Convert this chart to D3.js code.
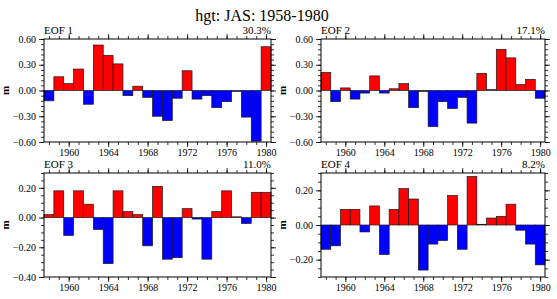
<!DOCTYPE html>
<html>
<head>
<meta charset="utf-8">
<script src="https://cdn.jsdelivr.net/npm/d3@7"></script>
<style>
  body { margin: 0; background: #fff; }
  svg text { font-family: "Liberation Serif", "DejaVu Serif", serif; }
</style>
</head>
<body>
<svg id="chart" width="557" height="299"></svg>
<script>
// years on the x axis
const years = [1958, 1959, 1960, 1961, 1962, 1963, 1964, 1965, 1966, 1967, 1968, 1969,
               1970, 1971, 1972, 1973, 1974, 1975, 1976, 1977, 1978, 1979, 1980];

// principal component time series, one per EOF
const eof1 = [-0.12, 0.16, 0.08, 0.25, -0.16, 0.53, 0.41, 0.31, -0.06, 0.05, -0.08, -0.30,
              -0.35, -0.09, 0.23, -0.10, -0.06, -0.20, -0.13, -0.01, -0.31, -0.59, 0.51];
const eof2 = [0.21, -0.13, 0.03, -0.10, -0.03, 0.17, -0.03, 0.02, 0.08, -0.20, -0.01, -0.42,
              -0.13, -0.21, -0.08, -0.38, 0.20, 0.01, 0.48, 0.38, 0.07, 0.13, -0.09];
const eof3 = [0.02, 0.18, -0.12, 0.18, 0.09, -0.08, -0.31, 0.18, 0.04, 0.02, -0.19, 0.21,
              -0.28, -0.27, 0.06, -0.01, -0.28, 0.04, 0.18, 0.005, -0.04, 0.17, 0.17];
const eof4 = [-0.14, -0.12, 0.09, 0.09, -0.04, 0.11, -0.17, 0.09, 0.21, 0.15, -0.26, -0.11,
              -0.09, 0.17, -0.14, 0.28, 0.004, 0.04, 0.05, 0.12, -0.03, -0.11, -0.23];

const panelNames = ["EOF 1", "EOF 2", "EOF 3", "EOF 4"];
const pctLabels = ["30.3%", "17.1%", "11.0%", "8.2%"];
const yearTicks = [1960, 1964, 1968, 1972, 1976, 1980];
const yTicks1 = [-0.6, -0.3, 0, 0.3, 0.6];
const yTicks3 = [-0.4, -0.2, 0, 0.2];
const yTicks4 = [-0.2, 0, 0.2];
const titleText = "hgt: JAS: 1958-1980";
const yLabel = "m";

const svg = d3.select("#chart");

svg.append("text")
    .attr("x", 262).attr("y", 21)
    .attr("text-anchor", "middle")
    .style("font-size", "16px")
    .text(titleText);

// layout of the four panels (frame box in pixels and y range)
const panels = [
  { data: eof1, x0: 44,  x1: 271, y0: 39,  y1: 142, dom: [-0.6, 0.6], ticks: yTicks1, minor: 0.06 },
  { data: eof2, x0: 321, x1: 545, y0: 39,  y1: 142, dom: [-0.6, 0.6], ticks: yTicks1, minor: 0.06 },
  { data: eof3, x0: 44,  x1: 271, y0: 173, y1: 277, dom: [-0.4, 0.3], ticks: yTicks3, minor: 0.05 },
  { data: eof4, x0: 321, x1: 545, y0: 173, y1: 277, dom: [-0.3, 0.3], ticks: yTicks4, minor: 0.05 }
];

panels.forEach(function(p, i) {
    let g = svg.append("g");
    let x = d3.scaleLinear().domain([years[0] - 0.5, years[years.length - 1] + 0.5]).range([p.x0, p.x1]);
    let y = d3.scaleLinear().domain(p.dom).range([p.y1, p.y0]);

    // bars
    g.selectAll("rect.bar")
        .data(p.data)
        .enter().append("rect")
        .attr("class", "bar")
        .attr("x", (d, j) => x(years[j] - 0.5))
        .attr("width", (d, j) => x(years[j] + 0.5) - x(years[j] - 0.5))
        .attr("y", d => y(Math.max(d, 0)))
        .attr("height", d => Math.abs(y(d) - y(0)))
        .attr("fill", d => d >= 0 ? "#ff0000" : "#0000ff")
        .attr("stroke", "#1a1a1a")
        .attr("stroke-width", 0.7);

    // minor tick values on y
    let minorY = d3.range(Math.ceil(p.dom[0] / p.minor - 1e-6), Math.floor(p.dom[1] / p.minor + 1e-6) + 1)
        .map(k => +(k * p.minor).toFixed(4));

    function styleAxis(sel) {
        sel.select(".domain").remove();
        sel.selectAll("line").attr("stroke", "#000").attr("stroke-width", 0.8);
        sel.selectAll("text").style("font-size", "10px").attr("fill", "#000");
    }

    // y axes, left with labels, right without
    g.append("g").attr("transform", "translate(" + p.x0 + ",0)")
        .call(d3.axisLeft(y).tickValues(minorY).tickSize(3).tickFormat(""))
        .call(styleAxis);
    g.append("g").attr("transform", "translate(" + p.x0 + ",0)")
        .call(d3.axisLeft(y).tickValues(p.ticks).tickSize(5).tickPadding(3).tickFormat(d3.format(".2f")))
        .call(styleAxis);
    g.append("g").attr("transform", "translate(" + p.x1 + ",0)")
        .call(d3.axisRight(y).tickValues(minorY).tickSize(3).tickFormat(""))
        .call(styleAxis);
    g.append("g").attr("transform", "translate(" + p.x1 + ",0)")
        .call(d3.axisRight(y).tickValues(p.ticks).tickSize(5).tickFormat(""))
        .call(styleAxis);

    // x axes, bottom with labels, top without
    g.append("g").attr("transform", "translate(0," + p.y1 + ")")
        .call(d3.axisBottom(x).tickValues(years).tickSize(3).tickFormat(""))
        .call(styleAxis);
    g.append("g").attr("transform", "translate(0," + p.y1 + ")")
        .call(d3.axisBottom(x).tickValues(yearTicks).tickSize(5).tickPadding(2).tickFormat(d3.format("d")))
        .call(styleAxis);
    g.append("g").attr("transform", "translate(0," + p.y0 + ")")
        .call(d3.axisTop(x).tickValues(years).tickSize(3).tickFormat(""))
        .call(styleAxis);
    g.append("g").attr("transform", "translate(0," + p.y0 + ")")
        .call(d3.axisTop(x).tickValues(yearTicks).tickSize(5).tickFormat(""))
        .call(styleAxis);

    // frame
    g.append("rect")
        .attr("x", p.x0).attr("y", p.y0)
        .attr("width", p.x1 - p.x0).attr("height", p.y1 - p.y0)
        .attr("fill", "none").attr("stroke", "#000").attr("stroke-width", 1);

    // y label
    let ym = (p.y0 + p.y1) / 2;
    g.append("text")
        .attr("transform", "translate(" + (p.x0 - 35) + "," + ym + ")rotate(-90)")
        .attr("text-anchor", "middle")
        .style("font-size", "11px").style("font-weight", "bold")
        .text(yLabel);

    // panel strings
    let sy = i < 2 ? 34 : 168;
    g.append("text").attr("x", p.x0).attr("y", sy)
        .style("font-size", "11px").text(panelNames[i]);
    g.append("text").attr("x", p.x1).attr("y", sy)
        .attr("text-anchor", "end")
        .style("font-size", "11px").text(pctLabels[i]);
});
</script>
</body>
</html>
